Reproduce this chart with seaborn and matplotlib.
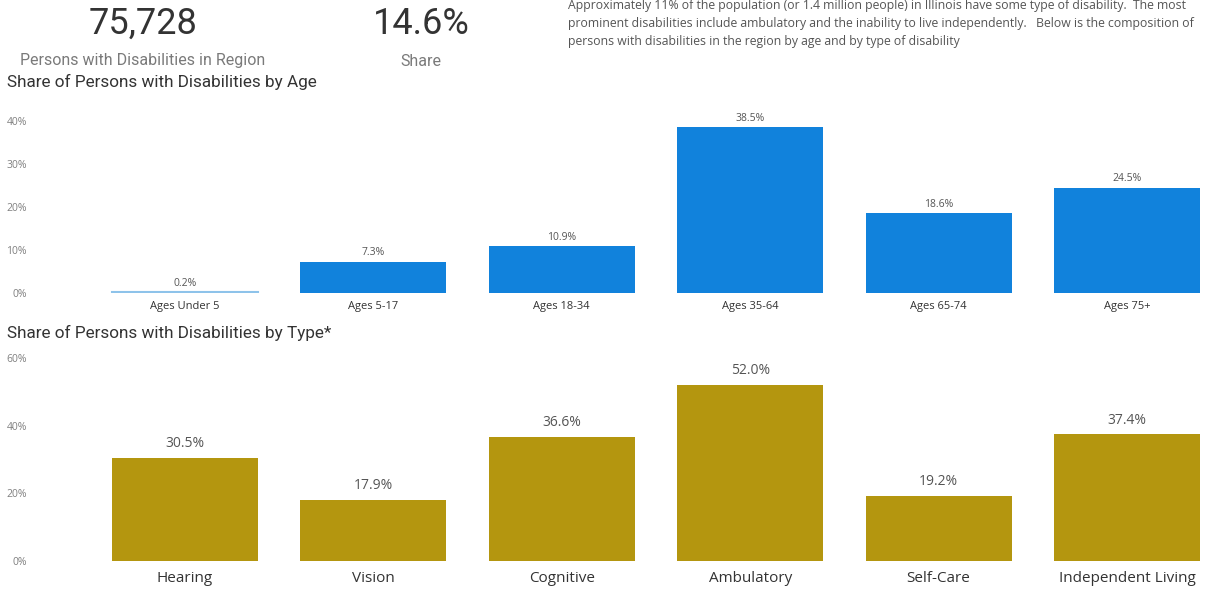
import matplotlib
matplotlib.use("Agg")
import matplotlib.pyplot as plt
import seaborn as sns
import pandas as pd

# Data
age_groups = ["Ages Under 5", "Ages 5-17", "Ages 18-34", "Ages 35-64", "Ages 65-74", "Ages 75+"]
age_share = [0.2, 7.3, 10.9, 38.5, 18.6, 24.5]

disability_types = ["Hearing", "Vision", "Cognitive", "Ambulatory", "Self-Care", "Independent Living"]
type_share = [30.5, 17.9, 36.6, 52.0, 19.2, 37.4]

age_ticks = [0, 10, 20, 30, 40]
type_ticks = [0, 20, 40, 60]

total_persons = "75,728"
region_share = "14.6%"

sns.set_theme(style="white")
plt.rcParams["font.family"] = ["Open Sans", "DejaVu Sans"]

BLUE = "#1182dc"
GOLD = "#b4960f"
TITLE_FONT = ["Roboto", "DejaVu Sans"]

W, H = 1218, 591
fig = plt.figure(figsize=(W / 100, H / 100), dpi=100)
fig.patch.set_facecolor("white")


def fx(px):
    return px / W


def fy(py):
    return 1 - py / H


# Header cards
fig.text(fx(143), fy(24), total_persons, ha="center", va="center",
         fontsize=26, color="#333333", family=TITLE_FONT)
fig.text(fx(143), fy(61), "Persons with Disabilities in Region", ha="center",
         va="center", fontsize=11.5, color="#7a7a7a", family=TITLE_FONT)
fig.text(fx(421), fy(24), region_share, ha="center", va="center",
         fontsize=26, color="#333333", family=TITLE_FONT)
fig.text(fx(421), fy(61), "Share", ha="center", va="center",
         fontsize=11.5, color="#7a7a7a", family=TITLE_FONT)

para = ("Approximately 11% of the population (or 1.4 million people) in Illinois have some type of disability.  The most\n"
        "prominent disabilities include ambulatory and the inability to live independently.   Below is the composition of\n"
        "persons with disabilities in the region by age and by type of disability")
fig.text(fx(568), fy(-1), para, ha="left", va="top", fontsize=8.8,
         color="#555555", linespacing=1.5)

fig.text(fx(7), fy(82), "Share of Persons with Disabilities by Age", ha="left",
         va="center", fontsize=12.3, color="#333333", family=TITLE_FONT)
fig.text(fx(7), fy(333), "Share of Persons with Disabilities by Type*", ha="left",
         va="center", fontsize=12.3, color="#333333", family=TITLE_FONT)

# Axes geometry (pixels)
left_px = 90.8
slot = 188.4
right_lim = -0.5 + (W - left_px) / slot

# Top chart: by age
age_top = 42
ax1 = fig.add_axes([fx(left_px), (H - 293) / H, 1 - fx(left_px), age_top * 4.3 / H])
df_age = pd.DataFrame({"group": age_groups, "share": age_share})
sns.barplot(data=df_age, x="group", y="share", color=BLUE, saturation=1,
            width=0.775, linewidth=0, ax=ax1)
ax1.patches[0].set_edgecolor("#8ec3ea")
ax1.patches[0].set_linewidth(1.5)
ax1.set_ylim(0, age_top)
ax1.set_xlim(-0.5, right_lim)
ax1.set_yticks(age_ticks)
ax1.set_yticklabels([f"{t}%" for t in age_ticks], fontsize=7.5, color="#808080")
ax1.tick_params(axis="y", pad=46, length=0)
ax1.tick_params(axis="x", pad=6, length=0, labelsize=8, labelcolor="#333333")
for i, v in enumerate(age_share):
    ax1.annotate(f"{v:.1f}%", (i, v), xytext=(0, 2.5), textcoords="offset points",
                 ha="center", va="bottom", fontsize=7.5, color="#555555")
ax1.set_xlabel("")
ax1.set_ylabel("")
sns.despine(ax=ax1, left=True, bottom=True)

# Bottom chart: by type
type_top = 60
ax2 = fig.add_axes([fx(left_px), (H - 561) / H, 1 - fx(left_px), 203 / H])
df_type = pd.DataFrame({"kind": disability_types, "share": type_share})
sns.barplot(data=df_type, x="kind", y="share", color=GOLD, saturation=1,
            width=0.775, linewidth=0, ax=ax2)
ax2.set_ylim(0, type_top)
ax2.set_xlim(-0.5, right_lim)
ax2.set_yticks(type_ticks)
ax2.set_yticklabels([f"{t}%" for t in type_ticks], fontsize=7.5, color="#808080")
ax2.tick_params(axis="y", pad=46, length=0)
ax2.tick_params(axis="x", pad=7.5, length=0, labelsize=11, labelcolor="#333333")
for i, v in enumerate(type_share):
    ax2.annotate(f"{v:.1f}%", (i, v), xytext=(0, 5), textcoords="offset points",
                 ha="center", va="bottom", fontsize=10, color="#555555")
ax2.set_xlabel("")
ax2.set_ylabel("")
sns.despine(ax=ax2, left=True, bottom=True)

fig.savefig("out.png", dpi=100, facecolor="white")
